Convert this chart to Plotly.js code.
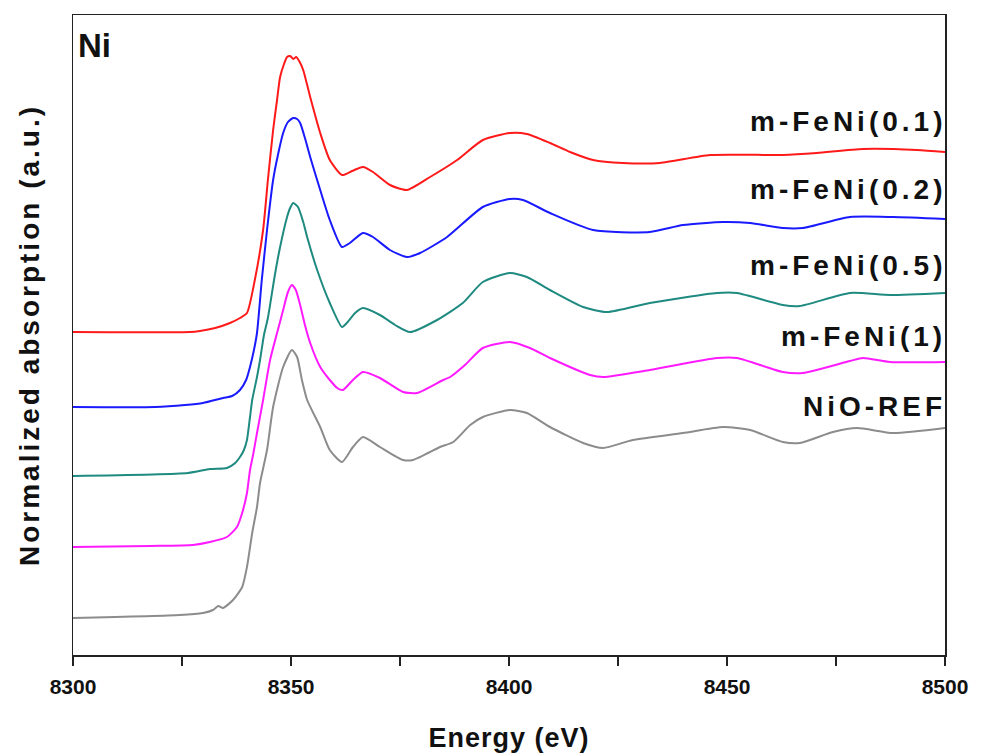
<!DOCTYPE html>
<html>
<head>
<meta charset="utf-8">
<script src="https://cdn.plot.ly/plotly-3.0.1.min.js"></script>
<style>html,body{margin:0;padding:0;background:#fff;}#chart{width:982px;height:756px;}</style>
</head>
<body>
<div id="chart"></div>
<script>
// Energy (eV) and normalized absorption (offset, a.u.)
const seriesNames = ["m-FeNi(0.1)", "m-FeNi(0.2)", "m-FeNi(0.5)", "m-FeNi(1)", "NiO-REF"];
const seriesColors = ["#ff1a1a", "#1a1aff", "#1f8a80", "#ff1aff", "#8c8c8c"];

const eRed = [8300,8326.8,8329.1,8332.6,8336.0,8338.3,8339.9,8341.7,8343.6,8344.7,8345.9,8346.8,8347.5,8348.4,8349.1,8349.8,8350.5,8351.2,8352.0,8352.8,8354.4,8356.7,8358.9,8361.7,8364.0,8366.5,8368.8,8372.7,8376.6,8381.9,8388.1,8394.0,8400.2,8404.1,8409.4,8414.0,8419.3,8426.1,8434.6,8446.1,8462.8,8470.6,8481.2,8493.6,8500];
const yRed = [3.23,3.23,3.24,3.27,3.32,3.37,3.42,3.75,4.25,4.75,5.25,5.55,5.78,5.91,5.98,5.99,5.96,5.98,5.93,5.85,5.58,5.22,4.95,4.80,4.84,4.88,4.83,4.70,4.65,4.78,4.95,5.15,5.22,5.21,5.12,5.03,4.95,4.92,4.92,5.00,5.00,5.02,5.06,5.05,5.03];

const eBlue = [8300,8318.8,8325.7,8329.8,8334.4,8336.5,8338.3,8339.7,8340.6,8341.5,8342.2,8343.3,8344.5,8345.9,8347.0,8348.2,8349.3,8350.5,8351.4,8352.1,8353.2,8354.4,8356.7,8358.9,8361.7,8363.5,8366.5,8368.8,8372.7,8376.6,8379.6,8385.8,8394.0,8400.2,8403.2,8409.4,8419.3,8432.3,8439.9,8449.1,8455.3,8462.8,8467.4,8478.2,8488.1,8500];
const yBlue = [2.48,2.48,2.50,2.52,2.57,2.59,2.65,2.75,2.88,3.05,3.22,3.75,4.25,4.75,5.00,5.22,5.33,5.37,5.36,5.32,5.17,4.98,4.65,4.35,4.08,4.12,4.22,4.18,4.05,3.98,4.02,4.18,4.48,4.56,4.55,4.42,4.25,4.23,4.30,4.33,4.32,4.27,4.27,4.38,4.38,4.36];

const eTeal = [8300,8326.4,8331.4,8335.3,8337.2,8338.3,8339.2,8339.9,8340.6,8341.1,8342.2,8342.9,8343.8,8344.7,8346.3,8347.5,8349.1,8349.8,8350.5,8351.6,8352.8,8353.7,8356.0,8358.9,8361.7,8362.8,8364.7,8366.5,8370.4,8373.9,8377.3,8383.5,8389.4,8394.0,8400.2,8404.1,8409.4,8417.0,8422.5,8432.3,8447.7,8452.3,8462.8,8466.7,8478.2,8487.4,8500];
const yTeal = [1.79,1.82,1.86,1.87,1.92,1.98,2.05,2.15,2.38,2.55,2.78,2.95,3.20,3.37,3.80,4.08,4.38,4.47,4.52,4.48,4.33,4.18,3.85,3.52,3.28,3.32,3.42,3.47,3.40,3.30,3.23,3.35,3.52,3.73,3.82,3.78,3.65,3.48,3.43,3.52,3.62,3.62,3.50,3.49,3.62,3.60,3.62];

const eMag = [8300,8317.7,8327.5,8331.4,8335.3,8337.6,8338.8,8339.9,8340.6,8341.3,8342.2,8343.6,8345.2,8346.8,8348.2,8349.3,8350.2,8351.1,8352.1,8353.2,8354.4,8356.7,8358.9,8360.6,8361.9,8364.2,8366.5,8370.4,8375.7,8378.9,8384.9,8386.5,8389.9,8394.0,8400.2,8404.8,8409.4,8418.6,8421.6,8432.3,8447.7,8452.3,8462.8,8467.4,8478.2,8481.2,8487.4,8500];
const yMag = [1.08,1.09,1.10,1.13,1.18,1.28,1.42,1.62,1.85,2.00,2.22,2.55,2.95,3.22,3.45,3.63,3.70,3.65,3.50,3.30,3.12,2.88,2.75,2.67,2.65,2.75,2.83,2.77,2.63,2.62,2.75,2.78,2.90,3.07,3.13,3.07,2.97,2.80,2.78,2.85,2.97,2.97,2.83,2.82,2.94,2.97,2.93,2.93];

const eGray = [8300,8324.5,8329.8,8332.1,8333.3,8334.4,8336.7,8338.8,8339.9,8341.1,8342.2,8342.9,8344.5,8345.9,8348.2,8350.2,8351.4,8352.5,8353.7,8356.7,8358.9,8361.7,8364.2,8366.5,8370.4,8375.7,8378.0,8384.2,8387.2,8391.1,8394.0,8400.2,8404.1,8409.4,8417.0,8421.6,8428.4,8439.9,8449.1,8455.3,8462.8,8466.7,8474.3,8479.8,8488.1,8500];
const yGray = [0.37,0.40,0.42,0.45,0.49,0.47,0.55,0.68,0.88,1.22,1.48,1.72,2.05,2.48,2.88,3.05,2.98,2.75,2.55,2.28,2.05,1.93,2.08,2.18,2.08,1.95,1.95,2.08,2.13,2.30,2.38,2.45,2.42,2.28,2.12,2.07,2.15,2.22,2.28,2.25,2.13,2.12,2.23,2.27,2.22,2.27];

const xTickVals = [8300, 8350, 8400, 8450, 8500];
const xTickText = ["8300", "8350", "8400", "8450", "8500"];

const energies = [eRed, eBlue, eTeal, eMag, eGray];
const values = [yRed, yBlue, yTeal, yMag, yGray];

const traces = seriesNames.map((n, i) => ({
  type: 'scatter', mode: 'lines', name: n,
  x: energies[i], y: values[i],
  line: {color: seriesColors[i], width: 2, shape: 'spline', smoothing: 0.6},
  hoverinfo: 'x+y+name'
}));

const spaced = (t, px) => '<span style="letter-spacing:' + px + 'px">' + t + '</span>';

const labelY = [0.833, 0.727, 0.609, 0.498, 0.389];
const annotations = seriesNames.map((n, i) => ({
  xref: 'paper', yref: 'paper', x: 1.004, y: labelY[i],
  xanchor: 'right', yanchor: 'middle', showarrow: false,
  text: spaced(n, 4), font: {family: 'Liberation Sans, Arial, sans-serif', size: 28, color: '#111', weight: 'bold'}
}));
annotations.push({
  xref: 'paper', yref: 'paper', x: 0.004, y: 0.953,
  xanchor: 'left', yanchor: 'middle', showarrow: false,
  text: 'Ni', font: {family: 'Liberation Sans, Arial, sans-serif', size: 33, color: '#111', weight: 'bold'}
});

const layout = {
  width: 982, height: 756,
  margin: {l: 73, r: 37, t: 15, b: 101},
  paper_bgcolor: '#fff', plot_bgcolor: '#fff',
  showlegend: false,
  font: {family: 'Liberation Sans, Arial, sans-serif', color: '#111'},
  xaxis: {
    range: [8300, 8500], tickvals: xTickVals, ticktext: xTickText,
    ticks: 'outside', ticklen: 9, tickwidth: 1.5, tickcolor: '#222',
    ticklabelstandoff: 3,
    minor: {dtick: 25, tick0: 8300, ticks: 'outside', ticklen: 9, tickwidth: 1.5, tickcolor: '#222'},
    showline: true, mirror: true, linecolor: '#222', linewidth: 1.5,
    showgrid: false, zeroline: false,
    tickfont: {size: 21, weight: 'bold', color: '#111'},
    title: {text: spaced('Energy (eV)', 1), font: {size: 27, weight: 'bold', color: '#111'}, standoff: 31}
  },
  yaxis: {
    range: [0, 6.4], showticklabels: false, ticks: '',
    showline: true, mirror: true, linecolor: '#222', linewidth: 1.5,
    showgrid: false, zeroline: false,
    title: {text: spaced('Normalized absorption (a.u.)', 3), font: {size: 28, weight: 'bold', color: '#111'}, standoff: 23}
  },
  annotations: annotations
};

Plotly.newPlot('chart', traces, layout, {displayModeBar: false, staticPlot: true});
</script>
</body>
</html>
